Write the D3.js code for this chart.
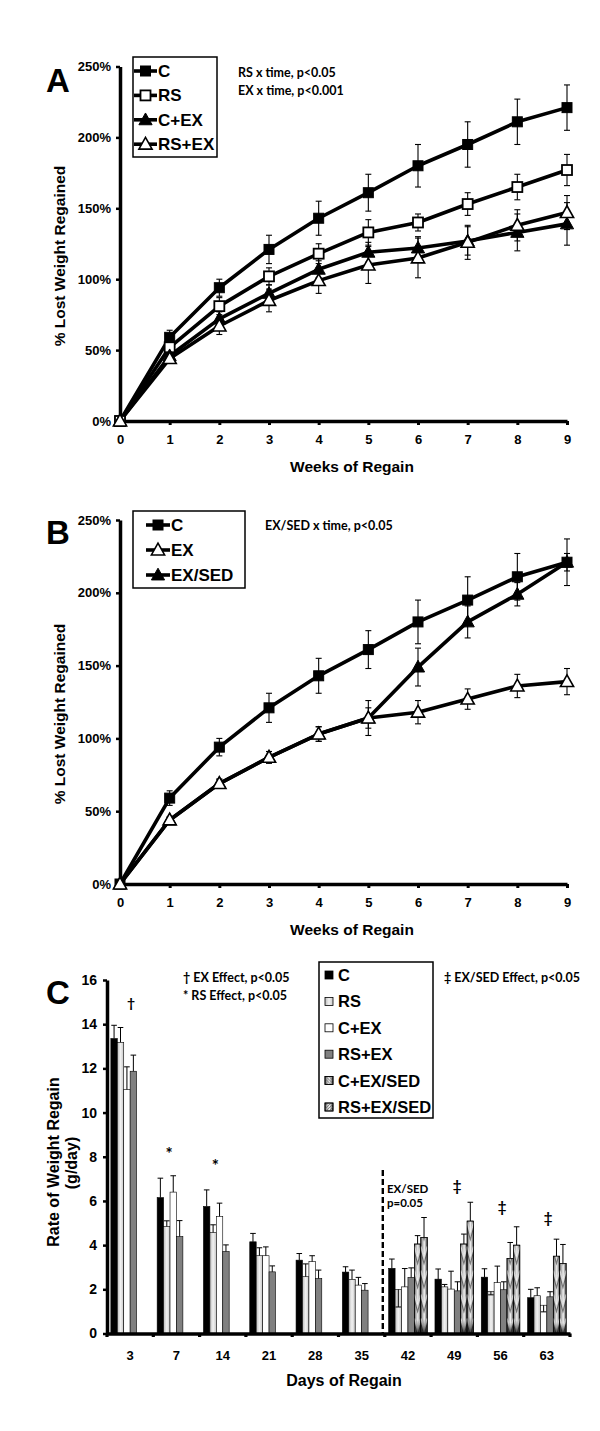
<!DOCTYPE html>
<html><head><meta charset="utf-8">
<script src="https://cdn.jsdelivr.net/npm/d3@7"></script>
<style>body{margin:0;background:#fff} svg{display:block}</style>
</head><body>
<svg id="c" width="600" height="1431"></svg>
<script>
// ---------- DATA ----------
const weeks = [0,1,2,3,4,5,6,7,8,9];
const pctTicks = [0,50,100,150,200,250];

// Panel A
const A_C        = [0,59,94,121,143,161,180,195,211,221];
const A_C_err    = [0,5,6,10,12,13,15,16,16,16];
const A_RS       = [0,52,81,102,118,133,140,153,165,177];
const A_RS_err   = [0,4,6,6,7,9,6,8,9,11];
const A_CEX      = [0,46,72,90,107,119,122,127,133,139];
const A_CEX_err  = [0,3,5,6,6,7,8,10,13,15];
const A_RSEX     = [0,44,67,85,99,110,115,126,138,147];
const A_RSEX_err = [0,3,6,8,9,13,14,12,11,12];

// Panel B
const B_C         = [0,59,94,121,143,161,180,195,211,221];
const B_C_err     = [0,5,6,10,12,13,15,16,16,16];
const B_EX        = [0,44,69,87,103,114,118,127,136,139];
const B_EX_err    = [0,2,3,4,5,7,8,7,8,9];
const B_EXSED     = [0,44,69,87,103,114,149,180,199,221];
const B_EXSED_err = [0,2,3,4,5,12,13,11,8,6];

// Panel C
const days = ["3","7","14","21","28","35","42","49","56","63"];
const barSeries = ["C","RS","C+EX","RS+EX","C+EX/SED","RS+EX/SED"];
const rateTicks = [0,2,4,6,8,10,12,14,16];
const R_C         = [13.35,6.15,5.75,4.15,3.32,2.78,2.95,2.46,2.55,1.62];
const R_C_err     = [0.6,0.88,0.75,0.38,0.3,0.24,0.42,0.46,0.38,0.38];
const R_RS        = [13.18,4.84,4.57,3.52,2.57,2.45,2.0,2.11,1.9,1.71];
const R_RS_err    = [0.67,0.26,0.35,0.36,0.58,0.42,-0.8,0.11,-0.15,0.36];
const R_CEX       = [11.04,6.4,5.3,3.52,3.25,2.19,2.11,2.01,2.3,1.28];
const R_CEX_err   = [1.03,0.74,0.6,0.4,0.27,0.35,0.83,0.81,0.75,-0.3];
const R_RSEX      = [11.87,4.39,3.71,2.79,2.49,1.96,2.54,1.93,1.98,1.66];
const R_RSEX_err  = [0.73,0.72,0.3,0.27,0.38,0.3,0.43,0.41,0.36,0.23];
const R_CEXSED    = [null,null,null,null,null,null,4.05,4.05,3.4,3.5];
const R_CEXSED_err= [null,null,null,null,null,null,0.38,0.45,0.72,0.77];
const R_RSEXSED   = [null,null,null,null,null,null,4.35,5.09,4.0,3.17];
const R_RSEXSED_err=[null,null,null,null,null,null,0.9,0.85,0.83,0.86];

// ---------- DRAW ----------
const svg = d3.select("#c");
const FONT = "'Liberation Sans', Arial, sans-serif";
const CAL = "Lato, 'Open Sans', sans-serif";
const defs = svg.append("defs");

function tri(s){ return `M0,${-s*0.62} L${s*0.6},${s*0.45} L${-s*0.6},${s*0.45} Z`; }
function marker(g, x, y, type, fill){
  if(type==="sq"){
    g.append("rect").attr("x",x-5).attr("y",y-5).attr("width",10).attr("height",10)
      .attr("fill",fill).attr("stroke","#000").attr("stroke-width",fill==="#fff"?1.8:1);
  } else {
    g.append("path").attr("d",tri(11)).attr("transform",`translate(${x},${y})`)
      .attr("fill",fill).attr("stroke","#000").attr("stroke-width",fill==="#fff"?1.6:1);
  }
}

function linePanel(cfg){
  const g = svg.append("g");
  const x = d3.scaleLinear().domain([0,9]).range([120,567]);
  const y = d3.scaleLinear().domain([0,250]).range([cfg.y0, cfg.y1]);
  const ya = g.append("g").attr("transform","translate(120,0)")
    .call(d3.axisLeft(y).tickValues(pctTicks).tickFormat(d=>d+"%").tickSize(4).tickSizeOuter(0));
  ya.select(".domain").attr("stroke-width",3.5);
  ya.selectAll(".tick line").attr("stroke-width",2.5);
  ya.selectAll("text").attr("font-family",FONT).attr("font-weight","bold").attr("font-size",13).attr("x",-9);
  const xa = g.append("g").attr("transform",`translate(0,${cfg.y0})`)
    .call(d3.axisBottom(x).tickValues(weeks).tickSize(4).tickSizeOuter(0));
  xa.select(".domain").attr("stroke-width",3.5);
  xa.selectAll(".tick line").attr("stroke-width",3);
  xa.selectAll("text").attr("font-family",FONT).attr("font-weight","bold").attr("font-size",13).attr("y",14);
  g.append("text").attr("x",352).attr("y",cfg.y0+51).attr("text-anchor","middle")
    .attr("font-family",FONT).attr("font-weight","bold").attr("font-size",15.5).text("Weeks of Regain");
  g.append("text").attr("transform",`translate(65,${cfg.titleY}) rotate(-90)`).attr("text-anchor","middle")
    .attr("font-family",FONT).attr("font-weight","bold").attr("font-size",15.5).text("% Lost Weight Regained");
  g.append("text").attr("x",46).attr("y",cfg.labelY).attr("font-family",FONT).attr("font-weight","bold")
    .attr("font-size",33).text(cfg.label);
  cfg.series.forEach(s=>{
    const line = d3.line().x((d,i)=>x(weeks[i])).y(d=>y(d));
    g.append("path").datum(s.vals).attr("d",line).attr("fill","none").attr("stroke","#000")
      .attr("stroke-width",3.6).attr("stroke-linejoin","round");
  });
  cfg.series.forEach(s=>{
    s.vals.forEach((v,i)=>{
      const e = s.errs[i]; if(!e) return;
      const xx = x(weeks[i]);
      g.append("line").attr("x1",xx).attr("x2",xx).attr("y1",y(v-e)).attr("y2",y(v+e)).attr("stroke","#000").attr("stroke-width",1.1);
      [v-e,v+e].forEach(w=>g.append("line").attr("x1",xx-3).attr("x2",xx+3).attr("y1",y(w)).attr("y2",y(w)).attr("stroke","#000").attr("stroke-width",1.1));
    });
  });
  cfg.series.forEach(s=>{
    s.vals.forEach((v,i)=>marker(g, x(weeks[i]), y(v), s.type, s.fill));
  });
  const L = cfg.legend;
  g.append("rect").attr("x",L.x).attr("y",L.y).attr("width",L.w).attr("height",L.h)
    .attr("fill","#fff").attr("stroke","#000").attr("stroke-width",1.5);
  cfg.series.slice().sort((a,b)=>a.lo-b.lo).forEach((s,k)=>{
    const ly = L.y + L.first + k*L.step;
    g.append("line").attr("x1",L.lx0).attr("x2",L.lx1).attr("y1",ly).attr("y2",ly).attr("stroke","#000").attr("stroke-width",3.6);
    marker(g,(L.lx0+L.lx1)/2, ly, s.type, s.fill);
    g.append("text").attr("x",L.lx1+1).attr("y",ly+6).attr("font-family",FONT).attr("font-weight","bold")
      .attr("font-size",17).text(s.name);
  });
  cfg.notes.forEach((t,k)=>{
    g.append("text").attr("x",cfg.noteX).attr("y",cfg.noteY+k*17.5).attr("font-family",CAL).attr("font-weight","bold")
      .attr("font-size",12.5).text(t);
  });
}

linePanel({
  y0:421, y1:66.5, titleY:256, label:"A", labelY:92,
  series:[
    {name:"C", vals:A_C, errs:A_C_err, type:"sq", fill:"#000", lo:0},
    {name:"RS", vals:A_RS, errs:A_RS_err, type:"sq", fill:"#fff", lo:1},
    {name:"C+EX", vals:A_CEX, errs:A_CEX_err, type:"tri", fill:"#000", lo:2},
    {name:"RS+EX", vals:A_RSEX, errs:A_RSEX_err, type:"tri", fill:"#fff", lo:3}
  ],
  legend:{x:133,y:57,w:84,h:100,first:14,step:24.4,lx0:134,lx1:157},
  notes:["RS x time, p<0.05","EX x time, p<0.001"], noteX:238, noteY:77
});

linePanel({
  y0:884, y1:520, titleY:714, label:"B", labelY:544,
  series:[
    {name:"EX/SED", vals:B_EXSED, errs:B_EXSED_err, type:"tri", fill:"#000", lo:2},
    {name:"C", vals:B_C, errs:B_C_err, type:"sq", fill:"#000", lo:0},
    {name:"EX", vals:B_EX, errs:B_EX_err, type:"tri", fill:"#fff", lo:1}
  ],
  legend:{x:133,y:511,w:112,h:77,first:14,step:25,lx0:146,lx1:170},
  notes:["EX/SED x time, p<0.05"], noteX:265, noteY:530
});

// ---------- Panel C ----------
(function(){
  const g = svg.append("g");
  const x = d3.scaleBand().domain(days).range([107,570]);
  const xi = d3.scaleBand().domain(barSeries).range([0,x.bandwidth()]).paddingOuter(0.6);
  const y = d3.scaleLinear().domain([0,16]).range([1333.5,980]);

  const gr1 = defs.append("linearGradient").attr("id","rsG").attr("x1",0).attr("x2",1);
  gr1.append("stop").attr("offset",0).attr("stop-color","#bdbdbd");
  gr1.append("stop").attr("offset",0.5).attr("stop-color","#f2f2f2");
  gr1.append("stop").attr("offset",1).attr("stop-color","#c8c8c8");
  const gr2 = defs.append("linearGradient").attr("id","sedG").attr("x1",0).attr("x2",1);
  [[0,"#6a6a6a"],[0.3,"#b8b8b8"],[0.55,"#f0f0f0"],[0.8,"#9a9a9a"],[1,"#3a3a3a"]]
    .forEach(([o,c])=>gr2.append("stop").attr("offset",o).attr("stop-color",c));
  const gr3 = defs.append("linearGradient").attr("id","sedB").attr("x1",0).attr("x2",0).attr("y1",0).attr("y2",1);
  [[0,"#000",0],[0.85,"#000",0],[1,"#000",0.75]].forEach(([o,c,a])=>gr3.append("stop").attr("offset",o).attr("stop-color",c).attr("stop-opacity",a));

  const fills = {"C":"#000","RS":"url(#rsG)","C+EX":"#fff","RS+EX":"#808080","C+EX/SED":"url(#sedG)","RS+EX/SED":"url(#sedG)"};
  const data = [
    ["C",R_C,R_C_err],["RS",R_RS,R_RS_err],["C+EX",R_CEX,R_CEX_err],["RS+EX",R_RSEX,R_RSEX_err],
    ["C+EX/SED",R_CEXSED,R_CEXSED_err],["RS+EX/SED",R_RSEXSED,R_RSEXSED_err]
  ];
  let clipN = 0;
  data.forEach(([name,vals,errs])=>{
    vals.forEach((v,i)=>{
      if(v==null) return;
      const bx = x(days[i]) + xi(name), bw = xi.bandwidth();
      const top = y(v), h = y(0)-top;
      g.append("rect").attr("x",bx).attr("y",top).attr("width",bw).attr("height",h)
        .attr("fill",fills[name]).attr("stroke","#000").attr("stroke-width",0.6);
      if(name.indexOf("SED")>=0){
        const id = "cl"+(clipN++);
        defs.append("clipPath").attr("id",id).append("rect").attr("x",bx).attr("y",top).attr("width",bw).attr("height",h);
        const cg = g.append("g").attr("clip-path",`url(#${id})`);
        for(let yy=y(0); yy>top-20; yy-=24){
          cg.append("path").attr("d",`M${bx},${yy-12} L${bx+bw/2},${yy} L${bx+bw},${yy-12}`)
            .attr("fill","none").attr("stroke","#222").attr("stroke-width",2.2).attr("opacity",0.55);
          cg.append("path").attr("d",`M${bx},${yy-15} L${bx+bw/2},${yy-3} L${bx+bw},${yy-15}`)
            .attr("fill","none").attr("stroke","#fff").attr("stroke-width",1.5).attr("opacity",0.7);
        }
        cg.append("rect").attr("x",bx).attr("y",top).attr("width",bw).attr("height",h).attr("fill","url(#sedB)");
        g.append("rect").attr("x",bx).attr("y",top).attr("width",bw).attr("height",h)
          .attr("fill","none").attr("stroke","#000").attr("stroke-width",0.6);
      }
      const e = errs[i];
      const cx = bx+bw/2, ey = y(v+e);
      g.append("line").attr("x1",cx).attr("x2",cx).attr("y1",top).attr("y2",ey).attr("stroke","#000").attr("stroke-width",1);
      g.append("line").attr("x1",cx-2.8).attr("x2",cx+2.8).attr("y1",ey).attr("y2",ey).attr("stroke","#000").attr("stroke-width",1);
    });
  });

  const ya = g.append("g").attr("transform","translate(107,0)")
    .call(d3.axisLeft(y).tickValues(rateTicks).tickSize(4).tickSizeOuter(0));
  ya.select(".domain").attr("stroke-width",3.5);
  ya.selectAll(".tick line").attr("stroke-width",2.5);
  ya.selectAll("text").attr("font-family",FONT).attr("font-weight","bold").attr("font-size",14).attr("x",-10);
  const xa = g.append("g").attr("transform","translate(0,1333.5)")
    .call(d3.axisBottom(x).tickSize(0).tickSizeOuter(0));
  xa.select(".domain").attr("stroke-width",3.5);
  xa.selectAll("text").attr("font-family",FONT).attr("font-weight","bold").attr("font-size",13).attr("y",17);
  const bounds = days.map(d=>x(d)).concat([x.range()[1]]);
  g.selectAll(".bt").data(bounds).enter().append("rect").attr("x",d=>d-1.6).attr("y",1333.5).attr("width",3.2).attr("height",3.5).attr("fill","#000");

  const dx = x("42") - 2;
  g.append("line").attr("x1",dx).attr("x2",dx).attr("y1",1170).attr("y2",1333).attr("stroke","#000")
    .attr("stroke-width",2.4).attr("stroke-dasharray","6,3");

  g.append("text").attr("x",344).attr("y",1386).attr("text-anchor","middle").attr("font-family",FONT)
    .attr("font-weight","bold").attr("font-size",16).text("Days of Regain");
  g.append("text").attr("transform","translate(59,1162) rotate(-90)").attr("text-anchor","middle")
    .attr("font-family",FONT).attr("font-weight","bold").attr("font-size",16).text("Rate of Weight Regain");
  g.append("text").attr("transform","translate(77,1163) rotate(-90)").attr("text-anchor","middle")
    .attr("font-family",FONT).attr("font-weight","bold").attr("font-size",16).text("(g/day)");
  g.append("text").attr("x",46).attr("y",1004).attr("font-family",FONT).attr("font-weight","bold")
    .attr("font-size",33).text("C");

  const note = (t,xx,yy,fs,anchor)=>g.append("text").attr("x",xx).attr("y",yy).attr("font-family",CAL)
    .attr("font-weight","bold").attr("font-size",fs).attr("fill","#000").attr("text-anchor",anchor||"start").text(t);
  note("† EX Effect, p<0.05",183,982,12.5);
  note("* RS Effect, p<0.05",183,1000,12.5);
  note("‡ EX/SED Effect, p<0.05",444,982,12.5);
  note("EX/SED",387,1193,11.5);
  note("p=0.05",387,1207,11.5);
  note("†",x("3")+x.bandwidth()/2+1,1008,14,"middle");
  note("*",x("7")+xi("C+EX")-1,1160,17,"middle");
  note("*",x("14")+xi("C+EX")-1,1172,17,"middle");
  note("‡",457,1191,15,"middle");
  note("‡",502,1212,15,"middle");
  note("‡",548,1223,15,"middle");

  g.append("rect").attr("x",319).attr("y",962).attr("width",114).attr("height",156)
    .attr("fill","#fff").attr("stroke","#000").attr("stroke-width",1.5);
  barSeries.forEach((s,k)=>{
    const ly = 975 + k*26.4;
    g.append("rect").attr("x",325).attr("y",ly-4).attr("width",8).attr("height",8)
      .attr("fill",fills[s]).attr("stroke","#000").attr("stroke-width",0.8);
    if(s.indexOf("SED")>=0){
      const id = "lg"+k;
      defs.append("clipPath").attr("id",id).append("rect").attr("x",325).attr("y",ly-4).attr("width",8).attr("height",8);
      const sg = g.append("g").attr("clip-path",`url(#${id})`);
      const dir = s==="C+EX/SED" ? 1 : -1;
      for(let o=-8;o<=8;o+=3){
        sg.append("line").attr("x1",329+o-4*dir).attr("x2",329+o+4*dir).attr("y1",ly-4).attr("y2",ly+4)
          .attr("stroke","#666").attr("stroke-width",0.7);
      }
      g.append("rect").attr("x",325).attr("y",ly-4).attr("width",8).attr("height",8).attr("fill","none").attr("stroke","#000").attr("stroke-width",0.8);
    }
    g.append("text").attr("x",338).attr("y",ly+6).attr("font-family",FONT).attr("font-weight","bold")
      .attr("font-size",16.5).text(s);
  });
})();
</script>
</body></html>
